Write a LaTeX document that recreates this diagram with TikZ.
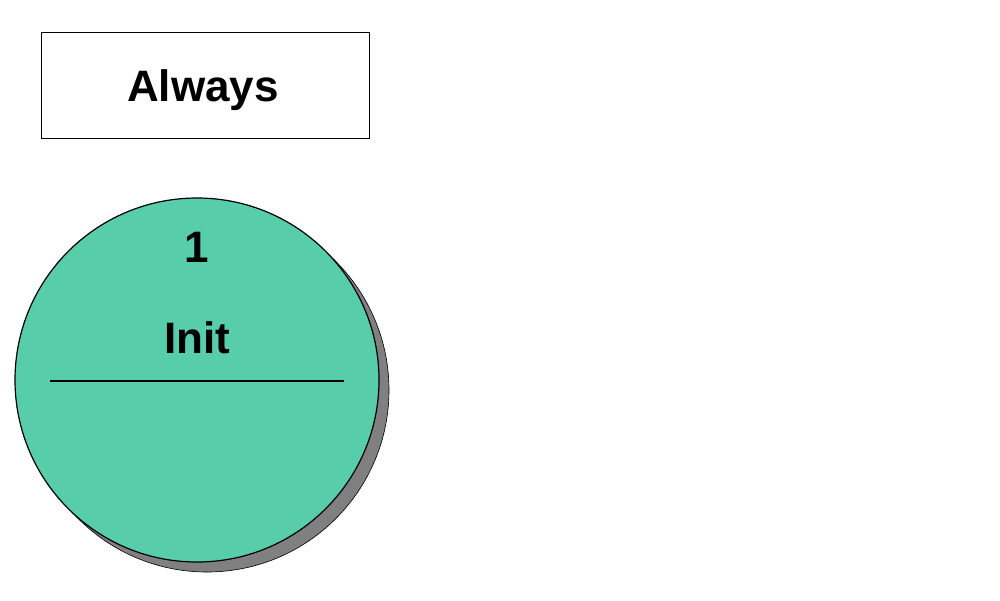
\documentclass[tikz,border=0pt]{standalone}
\usepackage{fontspec}
\setmainfont{Liberation Sans}
\definecolor{stategreen}{HTML}{57CDAA}
\definecolor{shadowgray}{HTML}{808080}
\begin{document}
\begin{tikzpicture}[x=1pt,y=-1pt,
  lbl/.style={font=\fontsize{44}{48}\selectfont\bfseries, inner sep=0pt, anchor=base},
  framebox/.style={draw=black, line width=1.2pt, fill=white},
  statecircle/.style={circle, draw=black, line width=1.2pt, fill=stategreen, minimum size=364pt, inner sep=0pt},
  shadowcircle/.style={circle, fill=shadowgray, draw=black, line width=0.6pt, minimum size=364pt, inner sep=0pt}]
\useasboundingbox (0,0) rectangle (1000,600);
\fill[white] (0,0) rectangle (1000,600);
\node[framebox, minimum width=328pt, minimum height=106pt, anchor=north west, inner sep=0pt] (always) at (40.5,31.5) {};
\node[lbl] (alwaystxt) at (203,101) {Always};
\node[shadowcircle] (shadow) at (207,390) {};
\node[statecircle] (state) at (197,380) {};
\node[lbl] (num) at (197,262) {1};
\node[lbl] (name) at (197,353) {Init};
\coordinate (divl) at (50,381);
\coordinate (divr) at (344,381);
\draw[line width=1.2pt] (divl) -- (divr);
\end{tikzpicture}
\end{document}
